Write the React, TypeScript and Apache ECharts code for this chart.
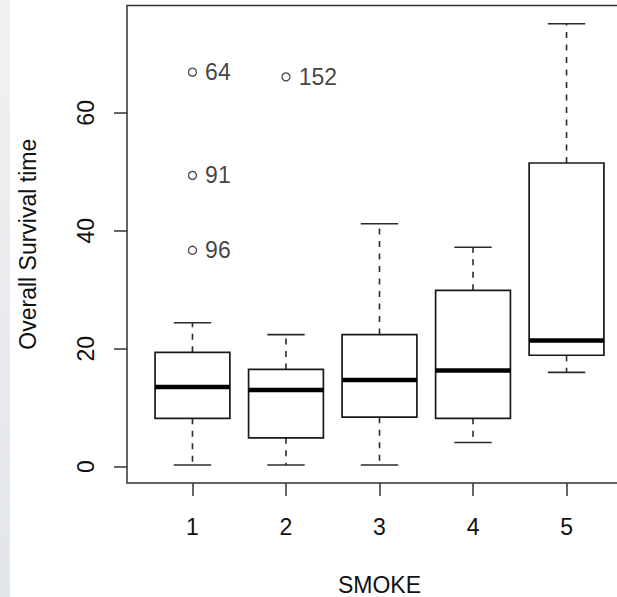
import { useEffect, useRef } from "react";
import * as echarts from "echarts";

const categories = [1, 2, 3, 4, 5];
const whiskerLow = [0.3, 0.3, 0.3, 4.1, 16.0];
const q1 = [8.2, 4.9, 8.4, 8.2, 18.9];
const median = [13.5, 13.0, 14.7, 16.3, 21.4];
const q3 = [19.4, 16.5, 22.4, 29.9, 51.5];
const whiskerHigh = [24.4, 22.4, 41.2, 37.2, 75.1];

const outlierGroup = [1, 1, 1, 2];
const outlierValue = [66.9, 49.4, 36.7, 66.1];
const outlierLabel = ["64", "91", "96", "152"];

const xTicks = [1, 2, 3, 4, 5];
const yTicks = [0, 20, 40, 60];

const FONT = "'Liberation Sans', Arial, sans-serif";
const TEXT = "#111111";
const AXIS = "#333333";

export default function App() {
  const ref = useRef<HTMLDivElement>(null);

  useEffect(() => {
    if (!ref.current) return;
    const chart = echarts.init(ref.current, null, { renderer: "svg" });

    const boxData = categories.map((c, i) => [
      c,
      whiskerLow[i],
      q1[i],
      median[i],
      q3[i],
      whiskerHigh[i],
    ]);

    const option: any = {
      animation: false,
      backgroundColor: "#ffffff",
      graphic: [
        {
          type: "rect",
          left: 0,
          top: 0,
          shape: { width: 10, height: 597 },
          style: {
            fill: new echarts.graphic.LinearGradient(0, 0, 0, 1, [
              { offset: 0, color: "#eff1f3" },
              { offset: 1, color: "#e3e6e9" },
            ]),
          },
          silent: true,
        },
      ],
      grid: {
        left: 127,
        top: 5.5,
        width: 505,
        height: 477.5,
        show: true,
        borderColor: AXIS,
        borderWidth: 1.5,
        backgroundColor: "transparent",
        containLabel: false,
        outerBoundsMode: "none",
      },
      xAxis: {
        type: "value",
        min: 0.3,
        max: 5.7,
        axisLine: { show: false, onZero: false },
        splitLine: { show: false },
        axisTick: {
          show: true,
          customValues: xTicks,
          length: 13,
          lineStyle: { color: AXIS, width: 1.5 },
        },
        axisLabel: {
          customValues: xTicks,
          margin: 32,
          fontSize: 23,
          fontFamily: FONT,
          color: TEXT,
        },
        name: "SMOKE",
        nameLocation: "middle",
        nameGap: 90,
        nameTextStyle: { fontSize: 23, fontFamily: FONT, color: TEXT },
      },
      yAxis: {
        type: "value",
        min: -2.76,
        max: 78.2,
        axisLine: { show: false, onZero: false },
        splitLine: { show: false },
        axisTick: {
          show: true,
          customValues: yTicks,
          length: 13,
          lineStyle: { color: AXIS, width: 1.5 },
        },
        axisLabel: {
          customValues: yTicks,
          rotate: 90,
          margin: 30,
          fontSize: 23,
          fontFamily: FONT,
          color: TEXT,
        },
        name: "Overall Survival time",
        nameLocation: "middle",
        nameRotate: 90,
        nameGap: 88,
        nameTextStyle: { fontSize: 23, fontFamily: FONT, color: TEXT },
      },
      series: [
        {
          type: "custom",
          data: boxData,
          encode: { x: 0, y: [1, 2, 3, 4, 5] },
          renderItem: (params: any, api: any) => {
            const x = api.value(0);
            const lo = api.coord([x, api.value(1)]);
            const b1 = api.coord([x, api.value(2)]);
            const md = api.coord([x, api.value(3)]);
            const b3 = api.coord([x, api.value(4)]);
            const hi = api.coord([x, api.value(5)]);
            const cx = lo[0];
            const half = api.size([0.4, 0])[0];
            const cap = api.size([0.2, 0])[0];
            const whiskStyle = { stroke: "#2a2a2a", lineWidth: 1.6, lineDash: [6, 6.5] };
            const solid = { stroke: "#2a2a2a", lineWidth: 1.6 };
            return {
              type: "group",
              children: [
                { type: "line", shape: { x1: cx, y1: b3[1], x2: cx, y2: hi[1] }, style: whiskStyle },
                { type: "line", shape: { x1: cx, y1: b1[1], x2: cx, y2: lo[1] }, style: whiskStyle },
                { type: "line", shape: { x1: cx - cap, y1: hi[1], x2: cx + cap, y2: hi[1] }, style: solid },
                { type: "line", shape: { x1: cx - cap, y1: lo[1], x2: cx + cap, y2: lo[1] }, style: solid },
                {
                  type: "rect",
                  shape: { x: cx - half, y: b3[1], width: half * 2, height: b1[1] - b3[1] },
                  style: { fill: "#ffffff", stroke: "#1a1a1a", lineWidth: 1.7 },
                },
                {
                  type: "line",
                  shape: { x1: cx - half, y1: md[1], x2: cx + half, y2: md[1] },
                  style: { stroke: "#000000", lineWidth: 4.5 },
                },
              ],
            };
          },
        },
        {
          type: "scatter",
          data: outlierGroup.map((g, i) => [g, outlierValue[i], outlierLabel[i]]),
          symbol: "circle",
          symbolSize: 8,
          itemStyle: { color: "#ffffff", borderColor: "#1a1a1a", borderWidth: 1.3 },
          label: {
            show: true,
            position: "right",
            distance: 8,
            formatter: (p: any) => p.value[2],
            fontSize: 23,
            fontFamily: FONT,
            color: TEXT,
          },
        },
      ],
    };

    chart.setOption(option);
    return () => chart.dispose();
  }, []);

  return (
    <div
      ref={ref}
      style={{ position: "absolute", left: 0, top: 0, width: 617, height: 597 }}
    />
  );
}
